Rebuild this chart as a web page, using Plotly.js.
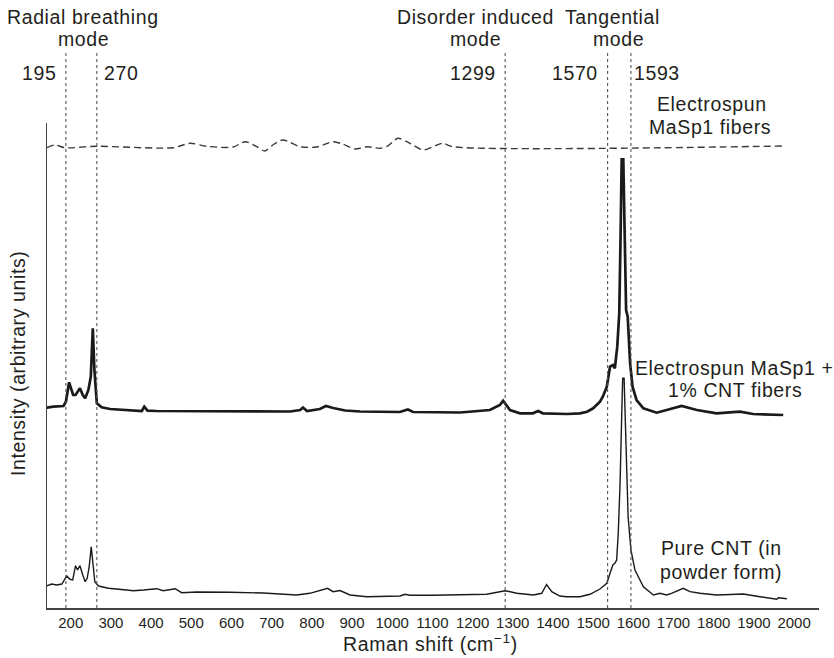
<!DOCTYPE html>
<html>
<head>
<meta charset="utf-8">
<script src="https://cdn.plot.ly/plotly-3.0.1.min.js"></script>
<style>
html,body{margin:0;padding:0;background:#fff;}
#chart{width:834px;height:658px;}
.annotation-text{letter-spacing:0.6px;}
</style>
</head>
<body>
<div id="chart"></div>
<script>
// ---- Data (Raman shift in cm^-1, intensity in arbitrary units) ----
var fiberShift = [141,161,186,265,455,497,538,604,634,663,683,703,728,771,812,853,878,907,937,970,990,1014,1044,1077,1107,1126,1151,1977];
var fiberIntensity = [461,463.7,461,462.4,461,465.4,462.4,461.7,467,462,457.7,463.7,468.7,462,461.7,467,464.4,459.7,462,460.4,463,470.4,465.4,458.7,463,465.4,462,462.7];

var compositeShift = [140,157,182,188,196,201,206,212,223,230,236,244,250,255,259,265,277,298,347,377,383,391,414,596,678,746,771,778,788,820,835,853,883,920,1019,1039,1052,1169,1243,1268,1276,1293,1318,1350,1363,1375,1435,1467,1485,1500,1517,1524,1534,1537,1542,1549,1554,1560,1565,1568.5,1571,1575,1577,1580,1582,1586,1592,1598,1608,1625,1658,1683,1720,1758,1807,1865,1898,1973];
var compositeIntensity = [201,202,202.7,207,226.4,218.7,213.7,213.7,220.4,213.7,210.4,218.7,232,280.4,238.7,205.4,201.4,199.7,198,197.7,202,198,197.7,197.7,197,197.2,198.7,201.2,197.7,199.7,202.7,200.7,198.2,197.2,196.7,199.2,196.7,196.2,198.7,203.7,208,198.7,195.4,195.4,197.7,195.4,194.7,195.4,197,200.4,207,212,222,228.7,242,243.7,240.4,262,295.7,378.7,449.4,449.4,412,345.7,298.7,292,245.4,222,208.7,200.4,196,198.7,202.7,198.7,195.4,197,194.7,193.7];

var cntShift = [140,153,165,178,190,198,205,212,217,223,230,236,241,246,251,256,260,269,294,339,356,381,414,430,460,476,514,596,679,762,795,839,853,870,895,937,1019,1032,1044,1101,1235,1281,1310,1351,1372,1384,1397,1417,1434,1467,1484,1492,1517,1534,1542,1549,1554,1558.5,1562.5,1567,1571,1573.5,1577,1582,1587,1594,1604,1625,1641,1650,1666,1683,1695,1724,1741,1766,1807,1874,1915,1957,1961,1982];
var cntIntensity = [22.7,24.7,23.7,24.7,32.7,29.4,28.7,43,38.7,43,33.7,27,30.4,42,62,42,27,22.7,20.4,18.7,18,18.7,20,18,20,16,16.7,16.4,15.7,13.7,15.4,20.4,17,18.2,13.7,12,12.7,14.4,13.4,13.4,14.4,18,15.4,13.7,15.4,24.2,17,12.7,12,12,13.7,14.4,19.7,25.4,35.4,43.7,45.4,48.7,75.4,125.4,192,230.4,230.4,158.7,92,58.7,38.7,22,17,13.7,15.4,13.7,15.4,20.4,17,15.4,13.7,14.7,12,9.4,11,10];

var modeLinePositions = [188, 265, 1281, 1536, 1594];
var modeLineLabels = ['195', '270', '1299', '1570', '1593'];
var modeTitles = [['Radial breathing', 'mode'], ['Disorder induced', 'mode'], ['Tangential', 'mode']];
var seriesLabels = [['Electrospun', 'MaSp1 fibers'], ['Electrospun MaSp1 +', '1% CNT fibers'], ['Pure CNT (in', 'powder form)']];
var xTickValues = [200,300,400,500,600,700,800,900,1000,1100,1200,1300,1400,1500,1600,1700,1800,1900,2000];

// ---- Layout helpers (pixel -> paper) ----
var W = 834, H = 658, ML = 47, MR = 15, MT = 123, MB = 50;
var PW = W - ML - MR, PH = H - MT - MB;
function px(x) { return (x - ML) / PW; }
function py(y) { return (H - MB - y) / PH; }

var FONT = '"Liberation Sans", Arial, Helvetica, sans-serif';
var TXT = '#231f20';
var FS = 19.5;

var traces = [
  {x: fiberShift, y: fiberIntensity, mode: 'lines', line: {color: '#3a3a3a', width: 1.4, dash: '7px,4px', shape: 'spline', smoothing: 0.8}, hoverinfo: 'skip'},
  {x: compositeShift, y: compositeIntensity, mode: 'lines', line: {color: '#1a1a1a', width: 2.7}, hoverinfo: 'skip'},
  {x: cntShift, y: cntIntensity, mode: 'lines', line: {color: '#1a1a1a', width: 1.4}, hoverinfo: 'skip'}
];

var shapes = modeLinePositions.map(function (v) {
  return {type: 'line', xref: 'x', yref: 'paper', x0: v, x1: v, y0: 0, y1: py(52), line: {color: '#555', width: 1.1, dash: 'dot'}};
});

var ann = [];
function addText(text, x, y, xanchor) {
  ann.push({text: text, xref: 'paper', yref: 'paper', x: px(x), y: py(y), xanchor: xanchor || 'center', yanchor: 'middle', showarrow: false, font: {family: FONT, size: FS, color: TXT}});
}
// mode titles
var modeTitleCenters = [[83, 83], [475, 475], [612, 618]];
modeTitles.forEach(function (t, i) {
  addText(t[0], modeTitleCenters[i][0], 17);
  addText(t[1], modeTitleCenters[i][1], 39);
});
// line value labels
var labelShift = [-8, 5, -7, -8, 1];
modeLineLabels.forEach(function (t, i) {
  ann.push({text: t, xref: 'x', yref: 'paper', x: modeLinePositions[i], y: py(73), xanchor: labelShift[i] < 0 ? 'right' : 'left', xshift: labelShift[i], yanchor: 'middle', showarrow: false, font: {family: FONT, size: FS, color: TXT}});
});
// series labels
var seriesLabelPos = [[[712, 104], [710, 127]], [[734, 368], [735, 390]], [[721, 548], [721, 572]]];
seriesLabels.forEach(function (t, i) {
  addText(t[0], seriesLabelPos[i][0][0], seriesLabelPos[i][0][1]);
  addText(t[1], seriesLabelPos[i][1][0], seriesLabelPos[i][1][1]);
});
// axis titles
addText('Raman shift (cm<sup>−1</sup>)', 430, 643);
ann.push({text: 'Intensity (arbitrary units)', xref: 'paper', yref: 'paper', x: px(18), y: py(364), textangle: -90, xanchor: 'center', yanchor: 'middle', showarrow: false, font: {family: FONT, size: FS, color: TXT}});

var layout = {
  width: W, height: H,
  margin: {l: ML, r: MR, t: MT, b: MB, pad: 0},
  paper_bgcolor: '#fff', plot_bgcolor: '#fff',
  showlegend: false,
  xaxis: {range: [141, 2062], showline: true, linecolor: '#444', linewidth: 1.5, showgrid: false, zeroline: false, ticks: '', tickvals: xTickValues, ticktext: xTickValues.map(String), tickfont: {family: FONT, size: 15, color: TXT}, fixedrange: true},
  yaxis: {range: [0.7, 485.7], showline: true, linecolor: '#444', linewidth: 1.5, showgrid: false, zeroline: false, showticklabels: false, ticks: '', fixedrange: true},
  shapes: shapes,
  annotations: ann
};

Plotly.newPlot('chart', traces, layout, {displayModeBar: false, staticPlot: true});
</script>
</body>
</html>
